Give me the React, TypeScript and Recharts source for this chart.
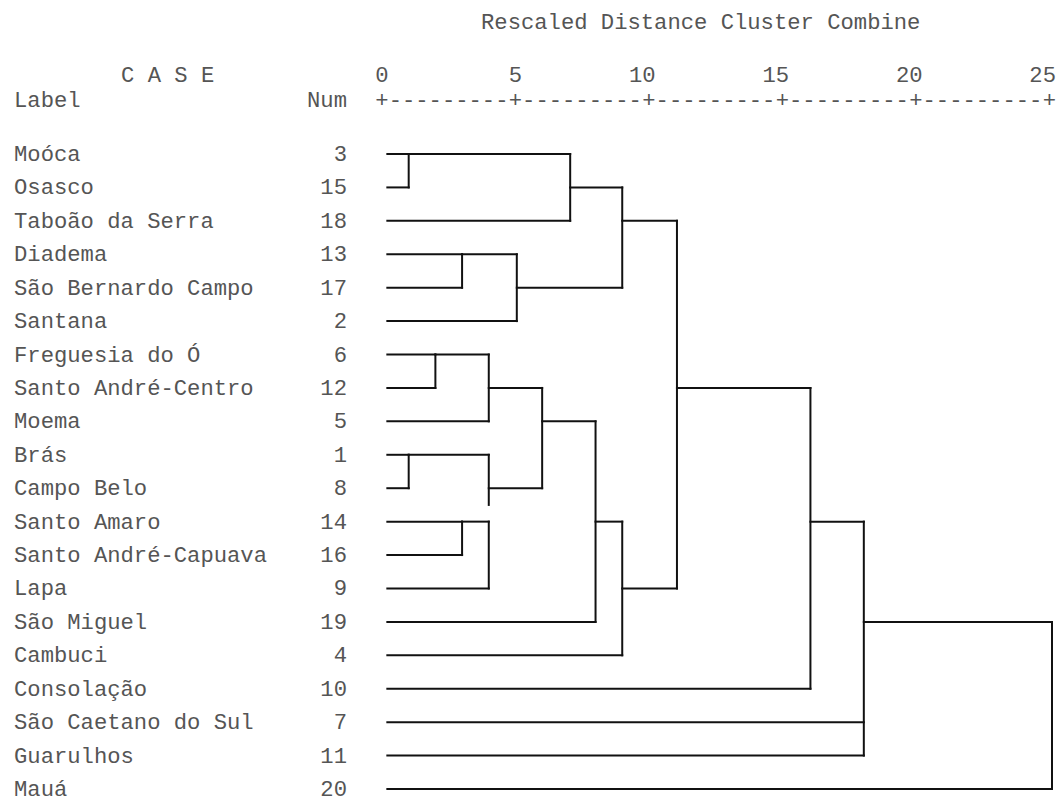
import { LineChart, Line, XAxis, YAxis } from 'recharts';

// cases in dendrogram order (top to bottom)
const CASE_LABELS = [
  'Moóca', 'Osasco', 'Taboão da Serra', 'Diadema', 'São Bernardo Campo', 'Santana',
  'Freguesia do Ó', 'Santo André-Centro', 'Moema', 'Brás', 'Campo Belo', 'Santo Amaro',
  'Santo André-Capuava', 'Lapa', 'São Miguel', 'Cambuci', 'Consolação',
  'São Caetano do Sul', 'Guarulhos', 'Mauá',
];
const CASE_NUMS = [3, 15, 18, 13, 17, 2, 6, 12, 5, 1, 8, 14, 16, 9, 19, 4, 10, 7, 11, 20];
const DIST_TICKS = [0, 5, 10, 15, 20, 25];

// rescaled distance where each case first joins a cluster
const LEAF_START = 0.2;
const LEAF_JOIN = [1.0, 1.0, 7.05, 3.0, 3.0, 5.05, 2.0, 2.0, 4.0, 1.0, 1.0, 3.0, 3.0, 4.0, 8.0, 9.0, 16.05, 18.05, 18.05, 25.1];

// merges: distance, vertical row spans, row the new cluster sits on, distance of its next merge
const MERGE_DIST = [1.0, 7.05, 3.0, 5.05, 9.0, 2.0, 4.0, 1.0, 3.0, 4.0, 6.0, 8.0, 9.0, 11.05, 16.05, 18.05, 25.1];
const MERGE_SPANS: number[][][] = [
  [[0, 1]], [[0, 2]], [[3, 4]], [[3, 5]], [[1, 4]], [[6, 7]], [[6, 8]], [[9, 10]], [[11, 12]],
  [[9, 10.5], [11, 13]], [[7, 10]], [[8, 14]], [[11, 15]], [[2, 13]], [[7, 16]], [[11, 18]], [[14, 19]],
];
const MERGE_ROW = [0, 1, 3, 4, 2, 6, 7, 9, 11, 10, 8, 11, 13, 7, 11, 14, null];
const MERGE_NEXT = [7.05, 9.0, 5.05, 9.0, 11.05, 4.0, 6.0, 4.0, 4.0, 6.0, 8.0, 9.0, 11.05, 16.05, 18.05, 25.1, null];

const FONT = "'Courier New', 'Liberation Mono', monospace";
const FS = 22.2;
const TXT = '#555';

type Pt = { d: number; row: number };
const segments: { key: string; pts: Pt[] }[] = [];
LEAF_JOIN.forEach((j, i) => {
  segments.push({ key: `leaf${i}`, pts: [{ d: LEAF_START, row: i }, { d: j, row: i }] });
});
MERGE_DIST.forEach((d, m) => {
  MERGE_SPANS[m].forEach(([a, b], k) => {
    segments.push({ key: `v${m}_${k}`, pts: [{ d, row: a }, { d, row: b }] });
  });
  const r = MERGE_ROW[m];
  const n = MERGE_NEXT[m];
  if (r !== null && n !== null) {
    segments.push({ key: `h${m}`, pts: [{ d, row: r }, { d: n, row: r }] });
  }
});

function DistTick(props: any) {
  const { x, payload } = props;
  const v = payload.value as number;
  return (
    <g fontFamily={FONT} fontSize={FS} fill={TXT}>
      <text x={x + 6.67} y={82} textAnchor="end">{String(v)}</text>
      <text x={x - 6.67} y={107} textAnchor="start" style={{ whiteSpace: 'pre' }}>
        {v < 25 ? '+---------' : '+'}
      </text>
    </g>
  );
}

function CaseTick(props: any) {
  const { y, payload } = props;
  const i = payload.value as number;
  return (
    <g fontFamily={FONT} fontSize={FS} fill={TXT}>
      <text x={14} y={y + 7}>{CASE_LABELS[i]}</text>
      <text x={347} y={y + 7} textAnchor="end">{CASE_NUMS[i]}</text>
    </g>
  );
}

export default function App() {
  return (
    <div style={{ position: 'absolute', left: 0, top: 0, width: 1060, height: 798, background: '#fff' }}>
      <LineChart width={1060} height={798} margin={{ top: 0, right: 8, bottom: 9, left: 0 }}>
        <XAxis
          type="number"
          dataKey="d"
          orientation="top"
          height={154}
          domain={[0, 'dataMax']}
          ticks={DIST_TICKS}
          interval={0}
          axisLine={false}
          tickLine={false}
          tick={<DistTick />}
        />
        <YAxis
          type="number"
          domain={[0, 19]}
          reversed
          width={382}
          ticks={CASE_NUMS.map((_, i) => i)}
          interval={0}
          axisLine={false}
          tickLine={false}
          tick={<CaseTick />}
        />
        {segments.map((s) => (
          <Line
            key={s.key}
            data={s.pts}
            dataKey="row"
            type="linear"
            stroke="#111"
            strokeWidth={2}
            strokeLinecap="square"
            dot={false}
            activeDot={false}
            isAnimationActive={false}
          />
        ))}
      </LineChart>
      <svg
        width={1060}
        height={130}
        style={{ position: 'absolute', left: 0, top: 0, pointerEvents: 'none' }}
        fontFamily={FONT}
        fontSize={FS}
        fill={TXT}
      >
        <text x={481} y={29} style={{ whiteSpace: 'pre' }}>Rescaled Distance Cluster Combine</text>
        <text x={121} y={82} style={{ whiteSpace: 'pre' }}>C A S E</text>
        <text x={14} y={107}>Label</text>
        <text x={347} y={107} textAnchor="end">Num</text>
      </svg>
    </div>
  );
}
